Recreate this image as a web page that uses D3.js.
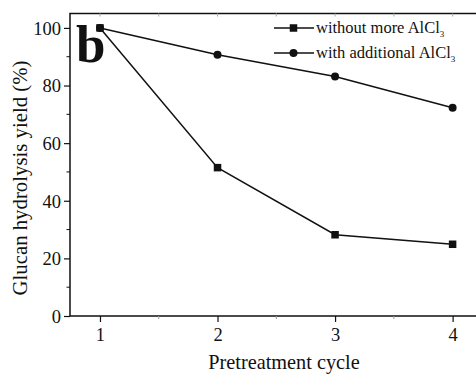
<!DOCTYPE html>
<html>
<head>
<meta charset="utf-8">
<script src="https://cdn.jsdelivr.net/npm/d3@7"></script>
<style>
  html, body { margin: 0; padding: 0; background: #fff; }
  svg { display: block; }
</style>
</head>
<body>
<svg id="chart" width="476" height="376"></svg>
<script>
// Pretreatment cycles and glucan hydrolysis yields (%)
const cycles = [1, 2, 3, 4];
const withoutMore = [100, 51.5, 28.2, 24.9];
const withAdditional = [100, 90.7, 83.1, 72.3];
const yTicks = [0, 20, 40, 60, 80, 100];
const yMinorTicks = [10, 30, 50, 70, 90];
const xMinorTicks = [1.5, 2.5, 3.5];
const seriesNames = ["without more AlCl", "with additional AlCl"];

const FONT = "Liberation Serif";
const INK = "#111";

const svg = d3.select("#chart");
const W = 476;
const xLeft = 70, xRight = W + 6;
const yBottom = 316, yTop = 13.5;

const x = d3.scaleLinear().domain([0.745, 4.25]).range([xLeft, xRight]);
const y = d3.scaleLinear().domain([0, 105]).range([yBottom, yTop]);

// Frame
svg.append("rect")
  .attr("x", xLeft).attr("y", yTop)
  .attr("width", xRight - xLeft).attr("height", yBottom - yTop)
  .attr("fill", "none").attr("stroke", INK).attr("stroke-width", 1.5);

// Left axis: major ticks with labels
const yAxis = d3.axisLeft(y).tickValues(yTicks).tickSize(6).tickPadding(3).tickFormat(d3.format("d"));
const gy = svg.append("g").attr("transform", `translate(${xLeft},0)`).call(yAxis)
  .attr("font-family", FONT).attr("font-size", 18.5);
gy.select(".domain").remove();
gy.selectAll("line").attr("stroke", INK).attr("stroke-width", 1.2);
gy.selectAll("text").attr("fill", INK).attr("dy", "0.34em");

// Left axis: minor ticks
svg.append("g").selectAll("line").data(yMinorTicks).join("line")
  .attr("x1", xLeft - 3.5).attr("x2", xLeft)
  .attr("y1", d => y(d)).attr("y2", d => y(d))
  .attr("stroke", INK).attr("stroke-width", 1);

// Bottom axis
const xAxis = d3.axisBottom(x).tickValues(cycles).tickSize(6).tickPadding(6).tickFormat(d3.format("d"));
const gx = svg.append("g").attr("transform", `translate(0,${yBottom})`).call(xAxis)
  .attr("font-family", FONT).attr("font-size", 18.5);
gx.select(".domain").remove();
gx.selectAll("line").attr("stroke", INK).attr("stroke-width", 1.2);
gx.selectAll("text").attr("fill", INK);

// Bottom axis minor ticks
svg.append("g").selectAll("line").data(xMinorTicks).join("line")
  .attr("x1", d => x(d)).attr("x2", d => x(d))
  .attr("y1", yBottom).attr("y2", yBottom + 3)
  .attr("stroke", "#999").attr("stroke-width", 1);

// Top axis ticks (inward, faint)
svg.append("g").selectAll("line").data(cycles.concat(xMinorTicks)).join("line")
  .attr("x1", d => x(d)).attr("x2", d => x(d))
  .attr("y1", yTop).attr("y2", yTop + 3)
  .attr("stroke", "#aaa").attr("stroke-width", 1);

// Axis titles
svg.append("text")
  .attr("x", 284).attr("y", 369)
  .attr("text-anchor", "middle")
  .attr("font-family", FONT).attr("font-size", 20.3).attr("fill", INK)
  .text("Pretreatment cycle");

svg.append("text")
  .attr("transform", "translate(27,178) rotate(-90)")
  .attr("text-anchor", "middle")
  .attr("font-family", FONT).attr("font-size", 20.8).attr("fill", INK)
  .text("Glucan hydrolysis yield (%)");

// Panel letter
svg.append("text")
  .attr("x", 76).attr("y", 62)
  .attr("font-family", FONT).attr("font-size", 53).attr("font-weight", "bold").attr("fill", INK)
  .text("b");

// Lines and markers
const line = d3.line().x((d, i) => x(cycles[i])).y(d => y(d));

[withoutMore, withAdditional].forEach(s => {
  svg.append("path").datum(s)
    .attr("d", line).attr("fill", "none").attr("stroke", INK).attr("stroke-width", 1.5);
});

const sq = 7.5;
svg.append("g").selectAll("rect").data(withoutMore).join("rect")
  .attr("x", (d, i) => x(cycles[i]) - sq / 2)
  .attr("y", d => y(d) - sq / 2)
  .attr("width", sq).attr("height", sq)
  .attr("fill", INK);

svg.append("g").selectAll("circle").data(withAdditional).join("circle")
  .attr("cx", (d, i) => x(cycles[i]))
  .attr("cy", d => y(d))
  .attr("r", 4)
  .attr("fill", INK);

// Legend
const legendRows = [28, 53];
seriesNames.forEach((name, i) => {
  const g = svg.append("g").attr("transform", `translate(274,${legendRows[i]})`);
  g.append("line").attr("x1", 0).attr("x2", 40).attr("y1", 0).attr("y2", 0)
    .attr("stroke", INK).attr("stroke-width", 1.5);
  if (i === 0) {
    g.append("rect").attr("x", 19.5 - sq / 2).attr("y", -sq / 2)
      .attr("width", sq).attr("height", sq).attr("fill", INK);
  } else {
    g.append("circle").attr("cx", 19.5).attr("cy", 0).attr("r", 4).attr("fill", INK);
  }
  const t = g.append("text").attr("x", 42).attr("y", 5)
    .attr("font-family", FONT).attr("font-size", 16.5).attr("fill", INK);
  t.append("tspan").text(name);
  t.append("tspan").attr("dy", 4).attr("font-size", 9).text("3");
});
</script>
</body>
</html>
